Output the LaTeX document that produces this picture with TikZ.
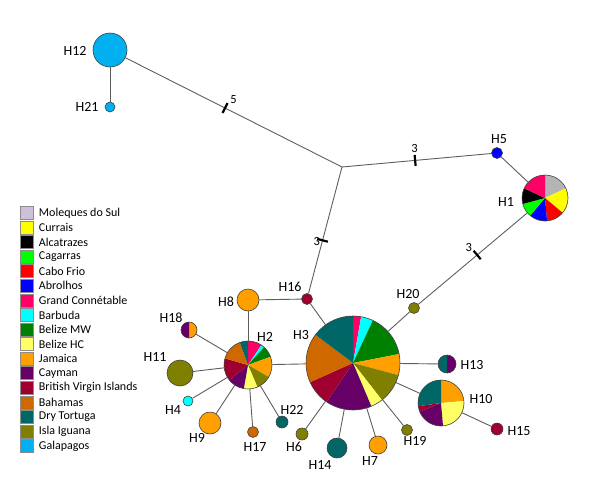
\documentclass[tikz,border=0pt]{standalone}
\usepackage{fontspec}
\setmainfont{Carlito}
\usepackage{xcolor}
\usetikzlibrary{positioning}

\definecolor{moleques}{HTML}{CCC0DA}
\definecolor{molgrey}{HTML}{B4B4B4}
\definecolor{currais}{HTML}{FFFF00}
\definecolor{alcatrazes}{HTML}{000000}
\definecolor{cagarras}{HTML}{00FF00}
\definecolor{cabofrio}{HTML}{FF0000}
\definecolor{abrolhos}{HTML}{0000FF}
\definecolor{grandconn}{HTML}{FF0066}
\definecolor{barbuda}{HTML}{00FFFF}
\definecolor{belizemw}{HTML}{008000}
\definecolor{belizehc}{HTML}{FFFF66}
\definecolor{jamaica}{HTML}{FFA000}
\definecolor{cayman}{HTML}{660066}
\definecolor{bvi}{HTML}{A00030}
\definecolor{bahamas}{HTML}{D06800}
\definecolor{drytortuga}{HTML}{006666}
\definecolor{islaiguana}{HTML}{808000}
\definecolor{galapagos}{HTML}{00B0F0}
\definecolor{edgegrey}{HTML}{5E5E5E}

% one pie slice: centre, radius, start angle, end angle, colour
\newcommand{\slice}[5]{\fill[#5] (#1) -- ++(#3:#2) arc[start angle=#3, end angle=#4, radius=#2] -- cycle;}

\begin{document}
\begin{tikzpicture}[x=1pt,y=1pt,
    hap/.style={circle, draw=black!75, line width=0.6pt, inner sep=0pt},
    hlab/.style={font=\fontsize{14}{16}\selectfont, inner sep=0pt},
    num/.style={font=\fontsize{12.5}{14}\selectfont, inner sep=0pt},
    tick/.style={sloped, fill=black, draw=none, minimum height=11pt, minimum width=2.2pt, inner sep=0pt},
    link/.style={draw=edgegrey, line width=0.9pt},
    swatch/.style={draw=black!45, line width=0.5pt, minimum size=13pt, inner sep=0pt},
    legtext/.style={font=\fontsize{12}{14}\selectfont, inner sep=0pt, anchor=west}]
\useasboundingbox (0,0) rectangle (612,-490);

% pies
\coordinate (c1) at (545,-198);
\slice{c1}{23}{90}{25}{molgrey}
\slice{c1}{23}{25}{-40}{currais}
\slice{c1}{23}{-40}{-85}{cabofrio}
\slice{c1}{23}{-85}{-130}{abrolhos}
\slice{c1}{23}{-130}{-165}{cagarras}
\slice{c1}{23}{195}{155}{alcatrazes}
\slice{c1}{23}{155}{90}{grandconn}
\node[hap, minimum size=46] (H1) at (c1) {};

\coordinate (c3) at (353,-363);
\slice{c3}{47}{90}{80}{grandconn}
\slice{c3}{47}{80}{65}{barbuda}
\slice{c3}{47}{65}{11}{belizemw}
\slice{c3}{47}{11}{-15}{jamaica}
\slice{c3}{47}{-15}{-52}{islaiguana}
\slice{c3}{47}{-52}{-67}{belizehc}
\slice{c3}{47}{-67}{-124}{cayman}
\slice{c3}{47}{-124}{-156}{bvi}
\slice{c3}{47}{204}{143}{bahamas}
\slice{c3}{47}{143}{90}{drytortuga}
\node[hap, minimum size=94] (H3) at (c3) {};

\coordinate (c2) at (248,-365);
\slice{c2}{24}{90}{56}{grandconn}
\slice{c2}{24}{56}{48}{barbuda}
\slice{c2}{24}{48}{20}{belizemw}
\slice{c2}{24}{20}{-30}{jamaica}
\slice{c2}{24}{-30}{-67}{islaiguana}
\slice{c2}{24}{-67}{-100}{belizehc}
\slice{c2}{24}{-100}{-141}{cayman}
\slice{c2}{24}{219}{164}{bvi}
\slice{c2}{24}{164}{110}{bahamas}
\slice{c2}{24}{110}{90}{drytortuga}
\node[hap, minimum size=48] (H2) at (c2) {};

\coordinate (c10) at (441,-403);
\slice{c10}{23}{90}{5}{jamaica}
\slice{c10}{23}{5}{-85}{belizehc}
\slice{c10}{23}{-85}{-158}{cayman}
\slice{c10}{23}{202}{188}{bvi}
\slice{c10}{23}{188}{90}{drytortuga}
\node[hap, minimum size=46] (H10) at (c10) {};

\coordinate (c13) at (447,-364);
\slice{c13}{9}{90}{-90}{cayman}
\slice{c13}{9}{90}{270}{drytortuga}
\node[hap, minimum size=18] (H13) at (c13) {};

\coordinate (c18) at (189,-330);
\slice{c18}{8}{90}{-90}{jamaica}
\slice{c18}{8}{90}{270}{cayman}
\node[hap, minimum size=16] (H18) at (c18) {};

% single haplotypes
\node[hap, fill=galapagos, minimum size=34] (H12) at (110,-50) {};
\node[hap, fill=galapagos, minimum size=10] (H21) at (110,-107) {};
\node[hap, fill=abrolhos, minimum size=11] (H5) at (497,-153) {};
\node[hap, fill=bvi, minimum size=11] (H16) at (307,-299) {};
\node[hap, fill=islaiguana, minimum size=11] (H20) at (414,-308) {};
\node[hap, fill=jamaica, minimum size=22] (H8) at (248,-300) {};
\node[hap, fill=islaiguana, minimum size=26] (H11) at (180,-373) {};
\node[hap, fill=barbuda, minimum size=10] (H4) at (188,-401) {};
\node[hap, fill=jamaica, minimum size=22] (H9) at (210,-423) {};
\node[hap, fill=bahamas, minimum size=11] (H17) at (253,-432) {};
\node[hap, fill=drytortuga, minimum size=12] (H22) at (282,-422) {};
\node[hap, fill=islaiguana, minimum size=12] (H6) at (302,-434) {};
\node[hap, fill=drytortuga, minimum size=20] (H14) at (337,-448) {};
\node[hap, fill=jamaica, minimum size=18] (H7) at (378,-445) {};
\node[hap, fill=islaiguana, minimum size=11] (H19) at (407,-430) {};
\node[hap, fill=bvi, minimum size=12] (H15) at (497,-429) {};
\coordinate (J) at (342,-167);

% labels
\node[hlab] (tH1) at (506,-202) {H1};
\node[hlab] (tH2) at (265,-337) {H2};
\node[hlab] (tH3) at (301,-335) {H3};
\node[hlab] (tH4) at (173,-410) {H4};
\node[hlab] (tH5) at (499,-139) {H5};
\node[hlab] (tH6) at (294,-447) {H6};
\node[hlab] (tH7) at (370,-461) {H7};
\node[hlab] (tH8) at (226,-302) {H8};
\node[hlab] (tH9) at (197,-438) {H9};
\node[hlab] (tH10) at (481,-399) {H10};
\node[hlab] (tH11) at (155,-357) {H11};
\node[hlab] (tH12) at (75,-51) {H12};
\node[hlab] (tH13) at (472,-365) {H13};
\node[hlab] (tH14) at (320,-465) {H14};
\node[hlab] (tH15) at (519,-431) {H15};
\node[hlab] (tH16) at (290,-287) {H16};
\node[hlab] (tH17) at (255,-447) {H17};
\node[hlab] (tH18) at (171,-318) {H18};
\node[hlab] (tH19) at (415,-441) {H19};
\node[hlab] (tH20) at (408,-294) {H20};
\node[hlab] (tH21) at (87,-107) {H21};
\node[hlab] (tH22) at (292,-410) {H22};

% network
\path[link]
    (H12) edge (H21)
    (H12) edge node[tick, pos=0.46] (k1) {} (J)
    (J) edge node[tick, pos=0.49] (k2) {} (H5)
    (J) edge node[tick, pos=0.58] (k3) {} (H16)
    (H5) edge (H1)
    (H1) edge node[tick, pos=0.46] (k4) {} (H20)
    (H20) edge (H3)
    (H16) edge (H3)
    (H16) edge (H8)
    (H8) edge (H2)
    (H2) edge (H18)
    (H2) edge (H11)
    (H2) edge (H4)
    (H2) edge (H9)
    (H2) edge (H17)
    (H2) edge (H22)
    (H2) edge (H3)
    (H3) edge (H6)
    (H3) edge (H14)
    (H3) edge (H7)
    (H3) edge (H19)
    (H3) edge (H10)
    (H3) edge (H13)
    (H10) edge (H15);
\node[num, above right=0pt and 1pt of k1] (n1) {5};
\node[num, above=2pt of k2] (n2) {3};
\node[num, left=2pt of k3] (n3) {3};
\node[num, above left=0pt and 0pt of k4] (n4) {3};

% legend
\foreach \nm/\col [count=\i from 0] in {Moleques do Sul/moleques, Currais/currais,
    Alcatrazes/alcatrazes, Cagarras/cagarras, Cabo Frio/cabofrio, Abrolhos/abrolhos,
    Grand Connétable/grandconn, Barbuda/barbuda, Belize MW/belizemw, Belize HC/belizehc,
    Jamaica/jamaica, Cayman/cayman, British Virgin Islands/bvi, Bahamas/bahamas,
    Dry Tortuga/drytortuga, Isla Iguana/islaiguana, Galapagos/galapagos}
{
    \node[swatch, fill=\col] (sw\i) at (27,{-213-14.56*\i}) {};
    \node[legtext, right=5pt of sw\i] (lt\i) {\nm};
}
\end{tikzpicture}
\end{document}
